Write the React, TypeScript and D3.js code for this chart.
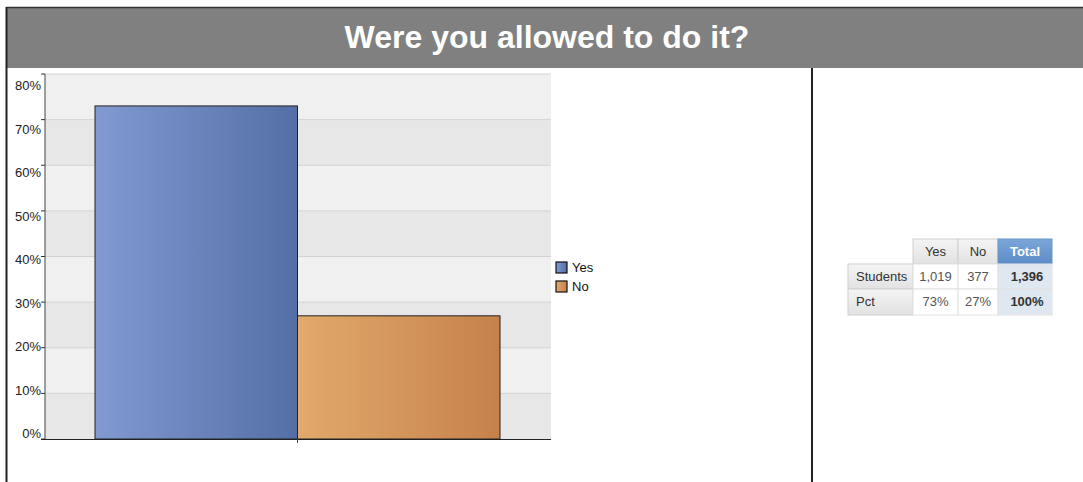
import React from "react";
import * as d3 from "d3";

const title = "Were you allowed to do it?";
const categories = ["Yes", "No"];
const pctValues = [73, 27];
const counts = [1019, 377];
const totalCount = 1396;
const yTicks = [0, 10, 20, 30, 40, 50, 60, 70, 80];
const tableCols = ["Yes", "No", "Total"];
const tableRows = ["Students", "Pct"];
const colors = [
  ["#8299d2", "#546fa6"],
  ["#e2aa6c", "#c6814b"],
];

const W = 1083;
const H = 482;
const FONT = "'Liberation Sans', Arial, Helvetica, sans-serif";

export default function App() {
  const plot = { left: 45, right: 551, top: 74, bottom: 439 };
  const y = d3.scaleLinear().domain([0, 80]).range([plot.bottom, plot.top]);
  const yLabel = d3.scaleLinear().domain([0, 80]).range([438, 90]);
  const x = d3
    .scaleBand<string>()
    .domain(categories)
    .range([95, 500])
    .padding(0);

  const bands = yTicks.slice(0, -1).map((t, i) => ({
    y0: y(t + 10),
    y1: y(t),
    fill: i % 2 === 0 ? "#e7e7e7" : "#f0f0f0",
  }));

  const colX = [848, 913, 958, 998, 1052];
  const rowY = [239, 264, 289, 315];
  const fmt = d3.format(",");
  const cellVals = [
    [...counts.map((c) => fmt(c)), fmt(totalCount)],
    [...pctValues.map((p) => p + "%"), "100%"],
  ];

  return (
    <svg
      width={W}
      height={H}
      style={{ position: "absolute", left: 0, top: 0 }}
      fontFamily={FONT}
    >
      <defs>
        {colors.map((c, i) => (
          <linearGradient key={i} id={`g${i}`} x1="0" x2="1" y1="0" y2="0">
            <stop offset="0" stopColor={c[0]} />
            <stop offset="1" stopColor={c[1]} />
          </linearGradient>
        ))}
        <linearGradient id="hdr" x1="0" x2="0" y1="0" y2="1">
          <stop offset="0" stopColor="#f4f4f4" />
          <stop offset="1" stopColor="#e2e2e2" />
        </linearGradient>
        <linearGradient id="tot" x1="0" x2="0" y1="0" y2="1">
          <stop offset="0" stopColor="#7ba6d8" />
          <stop offset="1" stopColor="#5b8cc8" />
        </linearGradient>
      </defs>
      <rect x={0} y={0} width={W} height={H} fill="#fff" />
      <rect x={6} y={7} width={W - 6} height={61} fill="#808080" />
      <line x1={6} x2={W} y1={7.5} y2={7.5} stroke="#333" strokeWidth={1.5} />
      <line x1={6.5} x2={6.5} y1={7} y2={H} stroke="#222" strokeWidth={2} />
      <line x1={812} x2={812} y1={68} y2={H} stroke="#222" strokeWidth={2} />
      <text
        x={547}
        y={48}
        textAnchor="middle"
        fill="#fff"
        fontSize={32}
        fontWeight="bold"
      >
        {title}
      </text>

      {bands.map((b, i) => (
        <rect
          key={i}
          x={plot.left}
          y={b.y0}
          width={plot.right - plot.left}
          height={b.y1 - b.y0}
          fill={b.fill}
        />
      ))}
      {yTicks.map((t) => (
        <g key={t}>
          {t > 0 && (
            <line
              x1={plot.left}
              x2={plot.right}
              y1={y(t)}
              y2={y(t)}
              stroke="#d2d2d2"
              strokeWidth={1}
            />
          )}
          <line
            x1={plot.left - 4}
            x2={plot.left}
            y1={y(t)}
            y2={y(t)}
            stroke="#333"
          />
          <text
            x={41}
            y={yLabel(t)}
            textAnchor="end"
            fontSize={13}
            fill="#222"
          >
            {t}%
          </text>
        </g>
      ))}
      {categories.map((c, i) => (
        <rect
          key={c}
          x={x(c)}
          y={y(pctValues[i])}
          width={x.bandwidth()}
          height={y(0) - y(pctValues[i])}
          fill={`url(#g${i})`}
          stroke="#222"
          strokeWidth={1}
        />
      ))}
      <line
        x1={plot.left}
        x2={plot.left}
        y1={plot.top}
        y2={plot.bottom}
        stroke="#444"
      />
      <line
        x1={plot.left - 4}
        x2={plot.right}
        y1={plot.bottom + 0.5}
        y2={plot.bottom + 0.5}
        stroke="#222"
      />
      <line
        x1={297.5}
        x2={297.5}
        y1={plot.bottom}
        y2={plot.bottom + 4}
        stroke="#444"
      />

      {categories.map((c, i) => (
        <g key={c} transform={`translate(556, ${262 + i * 19})`}>
          <rect
            x={0}
            y={0}
            width={11}
            height={11}
            fill={`url(#g${i})`}
            stroke="#111"
            strokeWidth={1.2}
          />
          <text x={16} y={10} fontSize={13} fill="#111">
            {c}
          </text>
        </g>
      ))}

      <g fontSize={13}>
        {tableCols.map((c, j) => {
          const x0 = colX[j + 1];
          const x1 = colX[j + 2];
          const isTot = c === "Total";
          return (
            <g key={c}>
              <rect
                x={x0}
                y={rowY[0]}
                width={x1 - x0}
                height={rowY[1] - rowY[0]}
                fill={isTot ? "url(#tot)" : "url(#hdr)"}
                stroke={isTot ? "#6b98cc" : "#d0d0d0"}
              />
              <text
                x={(x0 + x1) / 2}
                y={rowY[0] + 17}
                textAnchor="middle"
                fill={isTot ? "#fff" : "#333"}
                fontWeight={isTot ? "bold" : "normal"}
              >
                {c}
              </text>
            </g>
          );
        })}
        {tableRows.map((r, i) => (
          <g key={r}>
            <rect
              x={colX[0]}
              y={rowY[i + 1]}
              width={colX[1] - colX[0]}
              height={rowY[i + 2] - rowY[i + 1]}
              fill="url(#hdr)"
              stroke="#d0d0d0"
            />
            <text x={colX[0] + 8} y={rowY[i + 1] + 17} fill="#333">
              {r}
            </text>
            {cellVals[i].map((v, j) => {
              const x0 = colX[j + 1];
              const x1 = colX[j + 2];
              const isTot = j === 2;
              return (
                <g key={j}>
                  <rect
                    x={x0}
                    y={rowY[i + 1]}
                    width={x1 - x0}
                    height={rowY[i + 2] - rowY[i + 1]}
                    fill={isTot ? "#dfe7f1" : "#fff"}
                    stroke="#e2e2e2"
                  />
                  <text
                    x={(x0 + x1) / 2 + (isTot ? 2 : 0)}
                    y={rowY[i + 1] + 17}
                    textAnchor="middle"
                    fill={isTot ? "#333" : "#555"}
                    fontWeight={isTot ? "bold" : "normal"}
                  >
                    {v}
                  </text>
                </g>
              );
            })}
          </g>
        ))}
      </g>
    </svg>
  );
}
